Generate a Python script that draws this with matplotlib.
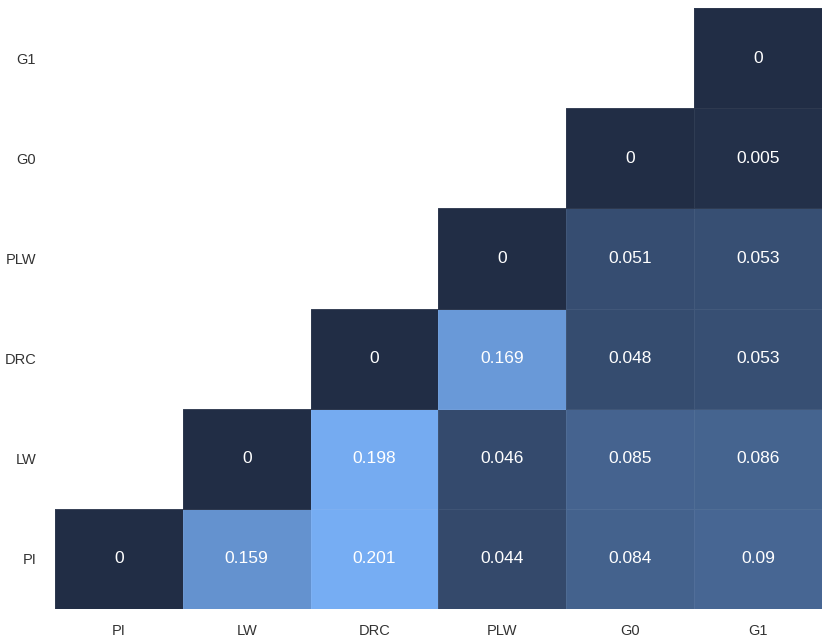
import numpy as np
import matplotlib
matplotlib.use("Agg")
import matplotlib.pyplot as plt
from matplotlib.colors import LinearSegmentedColormap

# trait names (x left to right, y bottom to top)
traits = ["PI", "LW", "DRC", "PLW", "G0", "G1"]

# upper-triangle values, one row per y trait (NaN = empty)
row_PI = [0, 0.159, 0.201, 0.044, 0.084, 0.09]
row_LW = [np.nan, 0, 0.198, 0.046, 0.085, 0.086]
row_DRC = [np.nan, np.nan, 0, 0.169, 0.048, 0.053]
row_PLW = [np.nan, np.nan, np.nan, 0, 0.051, 0.053]
row_G0 = [np.nan, np.nan, np.nan, np.nan, 0, 0.005]
row_G1 = [np.nan, np.nan, np.nan, np.nan, np.nan, 0]

values = np.array([row_PI, row_LW, row_DRC, row_PLW, row_G0, row_G1])

cmap = LinearSegmentedColormap.from_list("blues", ["#212d45", "#76adf3"])
fonts = ["Liberation Sans", "DejaVu Sans"]

fig = plt.figure(figsize=(8.29, 6.42), dpi=100)
ax = fig.add_axes([55 / 829, 33 / 642, 767 / 829, 601 / 642])

masked = np.ma.masked_invalid(values)
ax.pcolormesh(np.arange(7) - 0.5, np.arange(7) - 0.5, masked, cmap=cmap,
              vmin=0, vmax=np.nanmax(values), edgecolor=(1, 1, 1, 0.06), linewidth=0.6)

for i in range(len(traits)):
    for j in range(len(traits)):
        v = values[i, j]
        if np.isnan(v):
            continue
        ax.text(j, i, "%g" % v, ha="center", va="center", color="white",
                fontsize=12.5, family=fonts)

ax.set_xlim(-0.5, 5.5)
ax.set_ylim(-0.5, 5.5)
ax.set_xticks(range(len(traits)))
ax.set_yticks(range(len(traits)))
ax.set_xticklabels(traits)
ax.set_yticklabels(traits)
for lab in ax.get_xticklabels() + ax.get_yticklabels():
    lab.set_family(fonts)
    lab.set_fontsize(10.5)
    lab.set_color("#333333")
ax.tick_params(axis="x", length=0, pad=11)
ax.tick_params(axis="y", length=0, pad=13.5)
for s in ax.spines.values():
    s.set_visible(False)

fig.savefig("out.png", dpi=100)
